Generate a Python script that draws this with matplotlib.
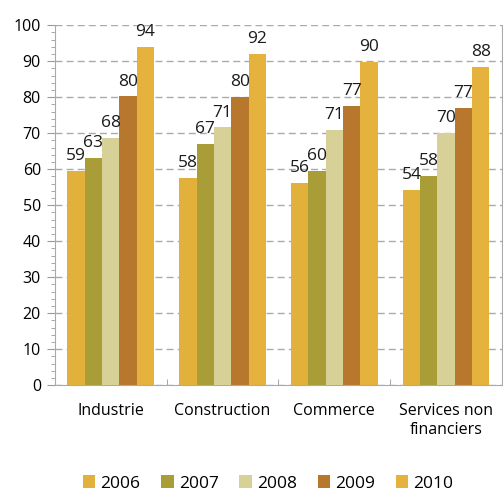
import matplotlib.pyplot as plt
import numpy as np

plt.rcParams['font.family'] = ['Open Sans', 'DejaVu Sans']

# Données
secteurs = ['Industrie', 'Construction', 'Commerce', 'Services non\nfinanciers']
annees = ['2006', '2007', '2008', '2009', '2010']
v2006 = [59.4, 57.6, 56.3, 54.1]
v2007 = [63.1, 67.0, 59.6, 58.1]
v2008 = [68.6, 71.6, 71.0, 70.0]
v2009 = [80.2, 80.0, 77.5, 76.9]
v2010 = [93.9, 92.0, 89.9, 88.3]
etiquettes = [[59, 58, 56, 54], [63, 67, 60, 58], [68, 71, 71, 70],
              [80, 80, 77, 77], [94, 92, 90, 88]]
couleurs = ['#e2b13c', '#a99d38', '#d8d197', '#b7772c', '#e4b23d']

series = [v2006, v2007, v2008, v2009, v2010]

fig = plt.figure(figsize=(5.03, 4.95), dpi=100)
ax = fig.add_axes([0.109, 0.222, 0.889, 0.727])

x = np.arange(len(secteurs))
largeur = 0.155
for i, (vals, lab) in enumerate(zip(series, etiquettes)):
    pos = x - 2 * largeur + i * largeur
    ax.bar(pos, vals, width=largeur, color=couleurs[i], label=annees[i], zorder=3)
    for p, v, t in zip(pos, vals, lab):
        ax.annotate(str(t), (p, v), xytext=(0, 5), textcoords='offset points',
                    ha='center', va='bottom', fontsize=12.5, color='#1a1a1a', zorder=4)

ax.set_xlim(-0.5, 3.5)
ax.set_ylim(0, 100)
ax.set_yticks(range(0, 101, 10))
ax.set_yticks(range(0, 101, 2), minor=True)
ax.tick_params(axis='y', which='major', length=6, color='#999999', labelsize=11.5, pad=4)
ax.tick_params(axis='y', which='minor', length=3, color='#999999')
ax.set_xticks(x)
ax.set_xticklabels(secteurs, fontsize=11.5)
ax.set_xticks([0.5, 1.5, 2.5], minor=True)
ax.tick_params(axis='x', which='major', length=0, pad=13)
ax.tick_params(axis='x', which='minor', direction='in', length=4, color='#999999')

ax.yaxis.grid(True, linestyle=(0, (5, 3)), color='#aaaaaa', linewidth=1, zorder=0)
ax.spines['top'].set_visible(False)
for s in ['left', 'bottom', 'right']:
    ax.spines[s].set_color('#aaaaaa')

ax.legend(loc='lower center', bbox_to_anchor=(0.533, 0.0), bbox_transform=fig.transFigure,
          ncol=5, frameon=False, fontsize=12.5, handlelength=0.7, handleheight=0.7,
          handletextpad=0.3, columnspacing=1.2, borderaxespad=0.0, borderpad=0.2)

plt.savefig('out.png', dpi=100)
